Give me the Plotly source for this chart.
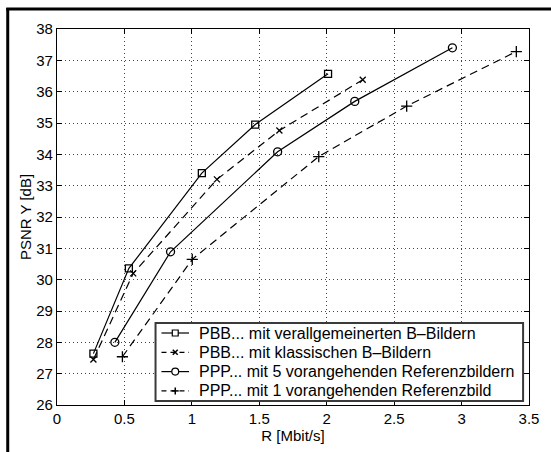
import plotly.graph_objects as go

# ---- data ----
r_pbb_gen = [0.27, 0.533, 1.074, 1.47, 2.01]
psnr_pbb_gen = [27.64, 30.36, 33.40, 34.95, 36.57]

r_pbb_cls = [0.27, 0.565, 1.186, 1.649, 2.267]
psnr_pbb_cls = [27.45, 30.20, 33.20, 34.76, 36.38]

r_ppp5 = [0.429, 0.842, 1.636, 2.208, 2.932]
psnr_ppp5 = [28.00, 30.89, 34.08, 35.69, 37.40]

r_ppp1 = [0.485, 1.003, 1.941, 2.593, 3.406]
psnr_ppp1 = [27.54, 30.65, 33.93, 35.54, 37.28]

names = [
    "PBB... mit verallgemeinerten B\u2013Bildern",
    "PBB... mit klassischen B\u2013Bildern",
    "PPP... mit 5 vorangehenden Referenzbildern",
    "PPP... mit 1 vorangehenden Referenzbild",
]

x_ticks = [0, 0.5, 1, 1.5, 2, 2.5, 3, 3.5]
x_ticklabels = ["0", "0.5", "1", "1.5", "2", "2.5", "3", "3.5"]
y_ticks = list(range(26, 39))

W, H = 551, 452
L, R, T, B = 57, 536, 29, 405

FONT = "Liberation Sans, Arial, Helvetica, sans-serif"
DASH = "8px,5px"

styles = [
    ("solid", "square-open", 7),
    (DASH, "x-thin-open", 6),
    ("solid", "circle-open", 8),
    (DASH, "cross-thin-open", 8),
]
data = [
    (r_pbb_gen, psnr_pbb_gen),
    (r_pbb_cls, psnr_pbb_cls),
    (r_ppp5, psnr_ppp5),
    (r_ppp1, psnr_ppp1),
]

fig = go.Figure()
for (xs, ys), nm, (dash, sym, sz) in zip(data, names, styles):
    fig.add_trace(go.Scatter(
        x=xs, y=ys, name=nm, mode="lines+markers", showlegend=False,
        line=dict(color="black", width=1.2, dash=dash),
        marker=dict(symbol=sym, size=sz, color="black",
                    line=dict(color="black", width=1.3)),
    ))


def px(xp):
    return (xp - L) / (R - L)


def py(yp):
    return (B - yp) / (B - T)


shapes = []
# outer frame (left and top edges of the cropped figure border)
shapes.append(dict(type="line", xref="paper", yref="paper",
                   x0=px(7), x1=px(7), y0=py(8), y1=py(470),
                   line=dict(color="black", width=3)))
shapes.append(dict(type="line", xref="paper", yref="paper",
                   x0=px(5.5), x1=px(570), y0=py(9), y1=py(9),
                   line=dict(color="black", width=3)))

# legend box (drawn manually to match the compact MATLAB legend)
LX0, LX1, LY0, LY1 = 157, 530, 323, 401
shapes.append(dict(type="rect", xref="paper", yref="paper", layer="above",
                   x0=px(LX0), x1=px(LX1), y0=py(LY1), y1=py(LY0),
                   fillcolor="white", line=dict(color="#3a3a3a", width=2)))

annotations = []
row_y = [333, 352.3, 371.6, 390.9]
SX0, SX1 = 163, 191
SXC = (SX0 + SX1) / 2
for i, (nm, (dash, sym, sz)) in enumerate(zip(names, styles)):
    yy = row_y[i]
    d = "solid" if dash == "solid" else "5px,4px"
    shapes.append(dict(type="line", xref="paper", yref="paper", layer="above",
                       x0=px(SX0), x1=px(SX1), y0=py(yy), y1=py(yy),
                       line=dict(color="black", width=1.2, dash=d)))
    if sym == "square-open":
        h = 3
        shapes.append(dict(type="rect", xref="paper", yref="paper", layer="above",
                           x0=px(SXC - h), x1=px(SXC + h), y0=py(yy + h), y1=py(yy - h),
                           fillcolor="white", line=dict(color="black", width=1.2)))
    elif sym == "circle-open":
        h = 3.5
        shapes.append(dict(type="circle", xref="paper", yref="paper", layer="above",
                           x0=px(SXC - h), x1=px(SXC + h), y0=py(yy + h), y1=py(yy - h),
                           fillcolor="white", line=dict(color="black", width=1.2)))
    elif sym == "x-thin-open":
        h = 2.5
        for s in (1, -1):
            shapes.append(dict(type="line", xref="paper", yref="paper", layer="above",
                               x0=px(SXC - h), x1=px(SXC + h),
                               y0=py(yy - s * h), y1=py(yy + s * h),
                               line=dict(color="black", width=1.5)))
    else:
        h = 3.5
        shapes.append(dict(type="line", xref="paper", yref="paper", layer="above",
                           x0=px(SXC - h), x1=px(SXC + h), y0=py(yy), y1=py(yy),
                           line=dict(color="black", width=1.5)))
        shapes.append(dict(type="line", xref="paper", yref="paper", layer="above",
                           x0=px(SXC), x1=px(SXC), y0=py(yy - h), y1=py(yy + h),
                           line=dict(color="black", width=1.5)))
    annotations.append(dict(xref="paper", yref="paper", x=px(199), y=py(yy),
                            xanchor="left", yanchor="middle", showarrow=False,
                            text=nm, font=dict(family=FONT, size=16, color="black")))

axis_common = dict(
    showline=True, linecolor="black", linewidth=1.3, mirror="ticks",
    ticks="inside", ticklen=5, tickcolor="black", tickwidth=1,
    showgrid=True, gridcolor="#444444", gridwidth=1, griddash="1px,3px",
    zeroline=False,
    tickfont=dict(family=FONT, size=15, color="black"),
)

fig.update_xaxes(range=[0, 3.5], tickvals=x_ticks, ticktext=x_ticklabels,
                 title=dict(text="R [Mbit/s]", font=dict(family=FONT, size=15, color="black"),
                            standoff=2),
                 **axis_common)
fig.update_yaxes(range=[26, 38], tickvals=y_ticks,
                 title=dict(text="PSNR Y [dB]", font=dict(family=FONT, size=15, color="black"),
                            standoff=0),
                 **axis_common)

fig.update_layout(
    width=W, height=H,
    margin=dict(l=L, r=W - R, t=T, b=H - B),
    paper_bgcolor="white", plot_bgcolor="white",
    font=dict(family=FONT, color="black"),
    showlegend=False,
    shapes=shapes,
    annotations=annotations,
)

fig.write_html(
    "out.html",
    config={"displayModeBar": False},
    post_script="document.body.style.margin='0';document.body.style.padding='0';"
                "document.body.style.overflow='hidden';",
)
